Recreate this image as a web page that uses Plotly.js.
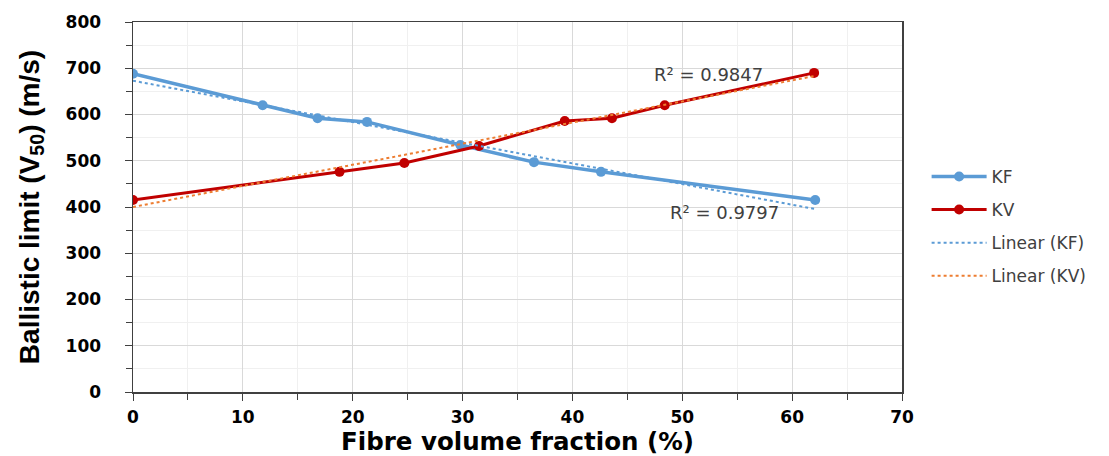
<!DOCTYPE html>
<html>
<head>
<meta charset="utf-8">
<script src="https://cdn.plot.ly/plotly-3.0.1.min.js"></script>
<style>html,body{margin:0;padding:0;background:#fff}#chart{width:1109px;height:456px}</style>
</head>
<body>
<div id="chart"></div>
<script>
// KF series
var kfX = [0, 11.8, 16.8, 21.3, 29.8, 36.5, 42.6, 62.1];
var kfY = [688, 620, 592, 584, 534, 497, 476, 415];
// KV series
var kvX = [0, 18.8, 24.7, 31.5, 39.3, 43.6, 48.4, 62.0];
var kvY = [415, 476, 495, 532, 586, 592, 620, 690];
// Linear trendlines (end points)
var trendX = [0, 62];
var kfTrendY = [673, 396];
var kvTrendY = [400, 683];
// R² labels
var r2Labels = ['R² = 0.9847', 'R² = 0.9797'];
var r2X = [52.4, 53.8];
var r2Y = [686, 389];
var xTicks = [0, 10, 20, 30, 40, 50, 60, 70];
var yTicks = [0, 100, 200, 300, 400, 500, 600, 700, 800];

var legendFont = {family: 'DejaVu Sans, Verdana, sans-serif', size: 17, color: '#404040'};

var traces = [
  {x: kfX, y: kfY, name: 'KF', mode: 'lines+markers', type: 'scatter',
   line: {color: '#5B9BD5', width: 3.5}, marker: {color: '#5B9BD5', size: 10}, legendgroup: 'a'},
  {x: kvX, y: kvY, name: 'KV', mode: 'lines+markers', type: 'scatter',
   line: {color: '#C00000', width: 3}, marker: {color: '#C00000', size: 10}, legendgroup: 'b'},
  {x: trendX, y: kfTrendY, name: 'Linear (KF)', mode: 'lines', type: 'scatter',
   line: {color: '#5B9BD5', width: 2, dash: 'dot'}, legendgroup: 'c'},
  {x: trendX, y: kvTrendY, name: 'Linear (KV)', mode: 'lines', type: 'scatter',
   line: {color: '#ED7D31', width: 2, dash: 'dot'}, legendgroup: 'd'}
];

var annotations = r2Labels.map(function (t, i) {
  return {x: r2X[i], y: r2Y[i], xref: 'x', yref: 'y', text: t, showarrow: false,
          font: {family: 'DejaVu Sans, Verdana, sans-serif', size: 18, color: '#404040'}};
});

var tickFont = {family: 'DejaVu Sans, Verdana, sans-serif', size: 17, color: '#000', weight: 'bold'};

var layout = {
  width: 1109, height: 456,
  margin: {l: 133, r: 207, t: 22, b: 64, pad: 0},
  paper_bgcolor: '#fff', plot_bgcolor: '#fff',
  showlegend: true,
  legend: {x: 1.032, xanchor: 'left', y: 0.63, yanchor: 'top', font: legendFont,
           traceorder: 'grouped', tracegroupgap: 8, itemwidth: 55, bgcolor: 'rgba(0,0,0,0)'},
  xaxis: {
    range: [0, 70], tickvals: xTicks, ticktext: xTicks.map(String),
    showline: true, linecolor: '#404040', linewidth: 1.5, mirror: true,
    ticks: 'outside', ticklen: 7, tickcolor: '#404040', ticklabelstandoff: 2,
    showgrid: true, gridcolor: '#d9d9d9', gridwidth: 1, zeroline: false,
    minor: {dtick: 5, tick0: 0, ticks: 'outside', ticklen: 6, tickcolor: '#404040', showgrid: true, gridcolor: '#f0f0f0', gridwidth: 1},
    tickfont: tickFont,
    title: {text: 'Fibre volume fraction (%)', standoff: 6,
            font: {family: 'DejaVu Sans, Verdana, sans-serif', size: 24.5, color: '#000', weight: 'bold'}}
  },
  yaxis: {
    range: [0, 800], tickvals: yTicks, ticktext: yTicks.map(String),
    showline: true, linecolor: '#404040', linewidth: 1.5, mirror: true,
    ticks: 'outside', ticklen: 7, tickcolor: '#404040', ticklabelstandoff: 20,
    showgrid: true, gridcolor: '#d9d9d9', gridwidth: 1, zeroline: false,
    minor: {dtick: 50, tick0: 0, ticks: 'outside', ticklen: 6, tickcolor: '#404040', showgrid: true, gridcolor: '#f0f0f0', gridwidth: 1},
    tickfont: tickFont,
    title: {text: 'Ballistic limit (V<sub>50</sub>) (m/s)', standoff: 18,
            font: {family: 'Liberation Sans, Arial, sans-serif', size: 28, color: '#000', weight: 'bold'}}
  },
  annotations: annotations
};

Plotly.newPlot('chart', traces, layout, {displayModeBar: false, staticPlot: true});
</script>
</body>
</html>
